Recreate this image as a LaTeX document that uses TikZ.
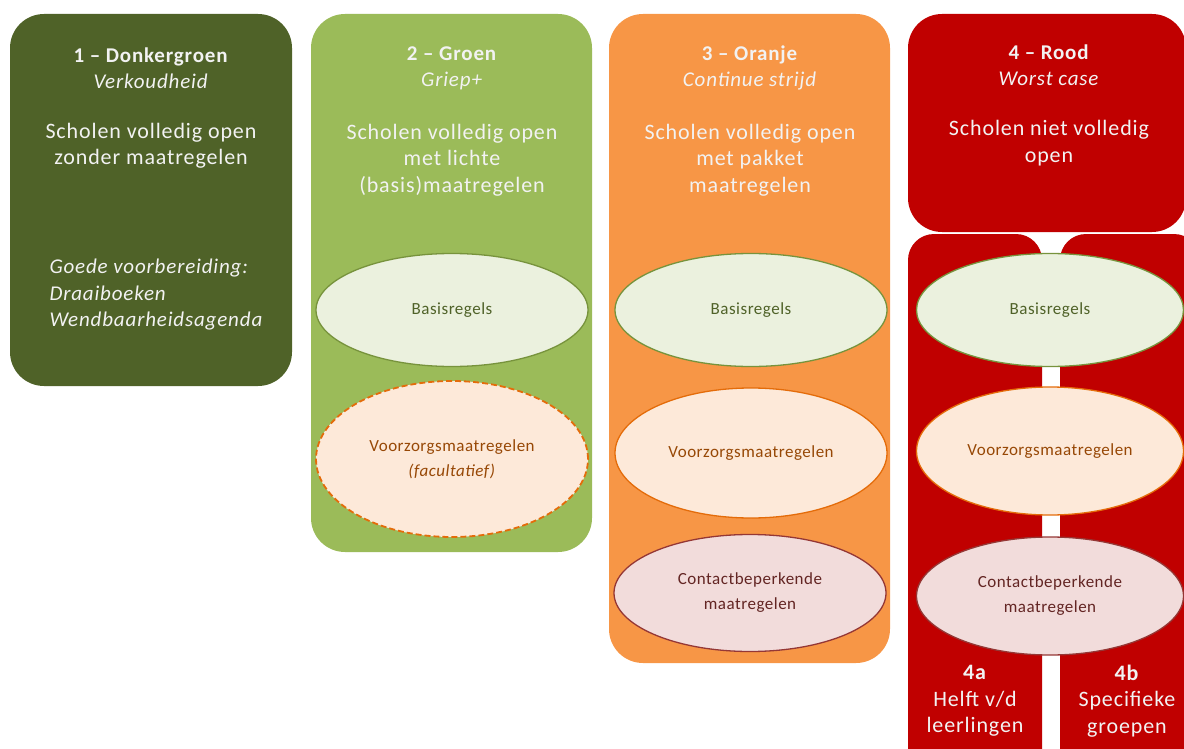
\documentclass[tikz,border=0pt]{standalone}
\usepackage{fontspec}
\setmainfont{Carlito}
\usetikzlibrary{shapes.geometric}
\definecolor{donkergroen}{HTML}{4F6228}
\definecolor{groen}{HTML}{9BBB59}
\definecolor{oranje}{HTML}{F79646}
\definecolor{rood}{HTML}{C00000}
\definecolor{basisvul}{HTML}{EBF1DE}
\definecolor{basisrand}{HTML}{77933C}
\definecolor{voorzorgvul}{HTML}{FDE9D9}
\definecolor{voorzorgrand}{HTML}{E46C0A}
\definecolor{contactvul}{HTML}{F2DCDB}
\definecolor{contactrand}{HTML}{953735}
\definecolor{voorzorgtekst}{HTML}{974806}
\definecolor{contacttekst}{HTML}{632523}
\definecolor{lichttekst}{HTML}{F2F2F2}
\begin{document}
\begin{tikzpicture}[x=1pt,y=-1pt,
  kolom/.style={rounded corners=34pt},
  kop/.style={text=lichttekst,align=center,
    font=\fontsize{21}{26}\selectfont\addfontfeatures{LetterSpace=4}},
  tekst/.style={text=lichttekst,align=center,
    font=\fontsize{22}{26.5}\selectfont\addfontfeatures{LetterSpace=4}},
  ovaal/.style={ellipse,line width=1.3pt,inner sep=0pt,minimum width=272pt,
    minimum height=113pt,align=center,
    font=\fontsize{17}{25}\selectfont\addfontfeatures{LetterSpace=3}},
  basis/.style={ovaal,draw=basisrand,fill=basisvul,text=donkergroen},
  voorzorg/.style={ovaal,draw=voorzorgrand,fill=voorzorgvul,text=voorzorgtekst},
  contact/.style={ovaal,draw=contactrand,fill=contactvul,text=contacttekst}]
  \clip (0,0) rectangle (1184,749);
  % kolommen
  \fill[donkergroen,kolom] (10,14) rectangle (292,386);
  \fill[groen,kolom] (311,14) rectangle (592,552);
  \fill[oranje,kolom] (609,14) rectangle (890,663);
  \fill[rood,kolom] (908,14) rectangle (1186,232);
  \fill[rood,rounded corners=26pt] (908,234) rectangle (1042,780);
  \fill[rood,rounded corners=26pt] (1060,234) rectangle (1200,780);
  % 1 - donkergroen
  \node[kop] (k1) at (151,68) {\textbf{1 – Donkergroen}\\\textit{Verkoudheid}};
  \node[tekst] (t1) at (151,146) {Scholen volledig open\\zonder maatregelen};
  \node[tekst,align=left,anchor=west,font=\fontsize{21}{26.5}\selectfont\addfontfeatures{LetterSpace=4}]
    (v1) at (46,295)
    {\textit{Goede voorbereiding:}\\\textit{Draaiboeken}\\\textit{Wendbaarheidsagenda}};
  % 2 - groen
  \node[kop] (k2) at (452,68) {\textbf{2 – Groen}\\\textit{Griep+}};
  \node[tekst] (t2) at (452,160) {Scholen volledig open\\met lichte\\(basis)maatregelen};
  \node[basis] (b2) at (452,310) {Basisregels};
  \node[voorzorg,line width=1.8pt,dash pattern=on 6pt off 3pt,minimum height=156pt] (v2) at (452,459)
    {Voorzorgsmaatregelen\\\textit{(facultatief)}};
  % 3 - oranje
  \node[kop] (k3) at (750,68) {\textbf{3 – Oranje}\\\textit{Continue strijd}};
  \node[tekst] (t3) at (750,160) {Scholen volledig open\\met pakket\\maatregelen};
  \node[basis] (b3) at (751,310) {Basisregels};
  \node[voorzorg,minimum height=130pt] (v3) at (751,453) {Voorzorgsmaatregelen};
  \node[contact,minimum height=117pt] (c3) at (750,593) {Contactbeperkende\\maatregelen};
  % 4 - rood
  \node[kop] (k4) at (1049,65) {\textbf{4 – Rood}\\\textit{Worst case}};
  \node[tekst] (t4) at (1049,143) {Scholen niet volledig\\open};
  \node[basis,minimum width=267pt] (b4) at (1050,310) {Basisregels};
  \node[voorzorg,minimum width=267pt,minimum height=128pt] (v4) at (1050,451) {Voorzorgsmaatregelen};
  \node[contact,minimum width=267pt,minimum height=118pt] (c4) at (1050,596) {Contactbeperkende\\maatregelen};
  \node[tekst] (a4) at (975,701) {\textbf{4a}\\Helft v/d\\leerlingen};
  \node[tekst] (b4b) at (1127,701) {\textbf{4b}\\Specifieke\\groepen};
\end{tikzpicture}
\end{document}
